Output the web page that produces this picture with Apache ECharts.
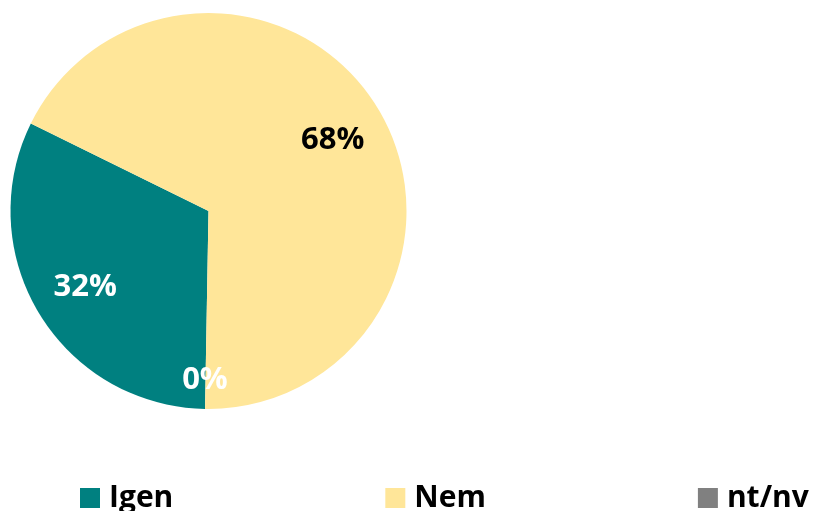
<!DOCTYPE html>
<html>
<head>
<meta charset="utf-8">
<script src="https://cdn.jsdelivr.net/npm/echarts@6/dist/echarts.min.js"></script>
<style>
html,body{margin:0;padding:0;background:#fff;}
#chart{width:816px;height:511px;}
</style>
</head>
<body>
<div id="chart"></div>
<script>
const categories = ['Igen', 'Nem', 'nt/nv'];
const values = [32, 68, 0];

const colors = ['#008080', '#FFE699', '#808080'];
const labelColors = ['#ffffff', '#000000', '#ffffff'];
const labelOffsets = [[1, 0], [0, 5], [-1, 23.5]];

const chart = echarts.init(document.getElementById('chart'), null, {renderer: 'canvas'});
const font = '"Open Sans", "DejaVu Sans", sans-serif';

const pieData = categories.map((c, i) => ({
  name: c,
  value: values[i],
  itemStyle: {color: colors[i]}
}));
const labelData = categories.map((c, i) => ({
  name: c,
  value: values[i],
  itemStyle: {color: 'rgba(0,0,0,0)'},
  label: {color: labelColors[i], offset: labelOffsets[i]}
}));

chart.setOption({
  animation: false,
  backgroundColor: '#ffffff',
  legend: {
    data: categories,
    left: 80,
    top: 483,
    padding: 0,
    itemWidth: 20,
    itemHeight: 20,
    itemGap: 212,
    icon: 'rect',
    textStyle: {fontFamily: font, fontWeight: 'bold', fontSize: 30, color: '#000', padding: [0, 0, 0, 4]},
    selectedMode: false
  },
  series: [
    {
      type: 'pie',
      center: [208.5, 211],
      radius: [0, 198],
      startAngle: 269,
      clockwise: true,
      data: pieData,
      label: {show: false},
      labelLine: {show: false},
      emphasis: {disabled: true},
      silent: true
    },
    {
      type: 'pie',
      center: [208.5, 211],
      radius: [87, 198],
      startAngle: 269,
      clockwise: true,
      data: labelData,
      legendHoverLink: false,
      label: {
        show: true,
        position: 'inside',
        formatter: '{c}%',
        fontFamily: font,
        fontWeight: 'bold',
        fontSize: 31
      },
      labelLine: {show: false},
      emphasis: {disabled: true},
      silent: true
    }
  ]
});
</script>
</body>
</html>
